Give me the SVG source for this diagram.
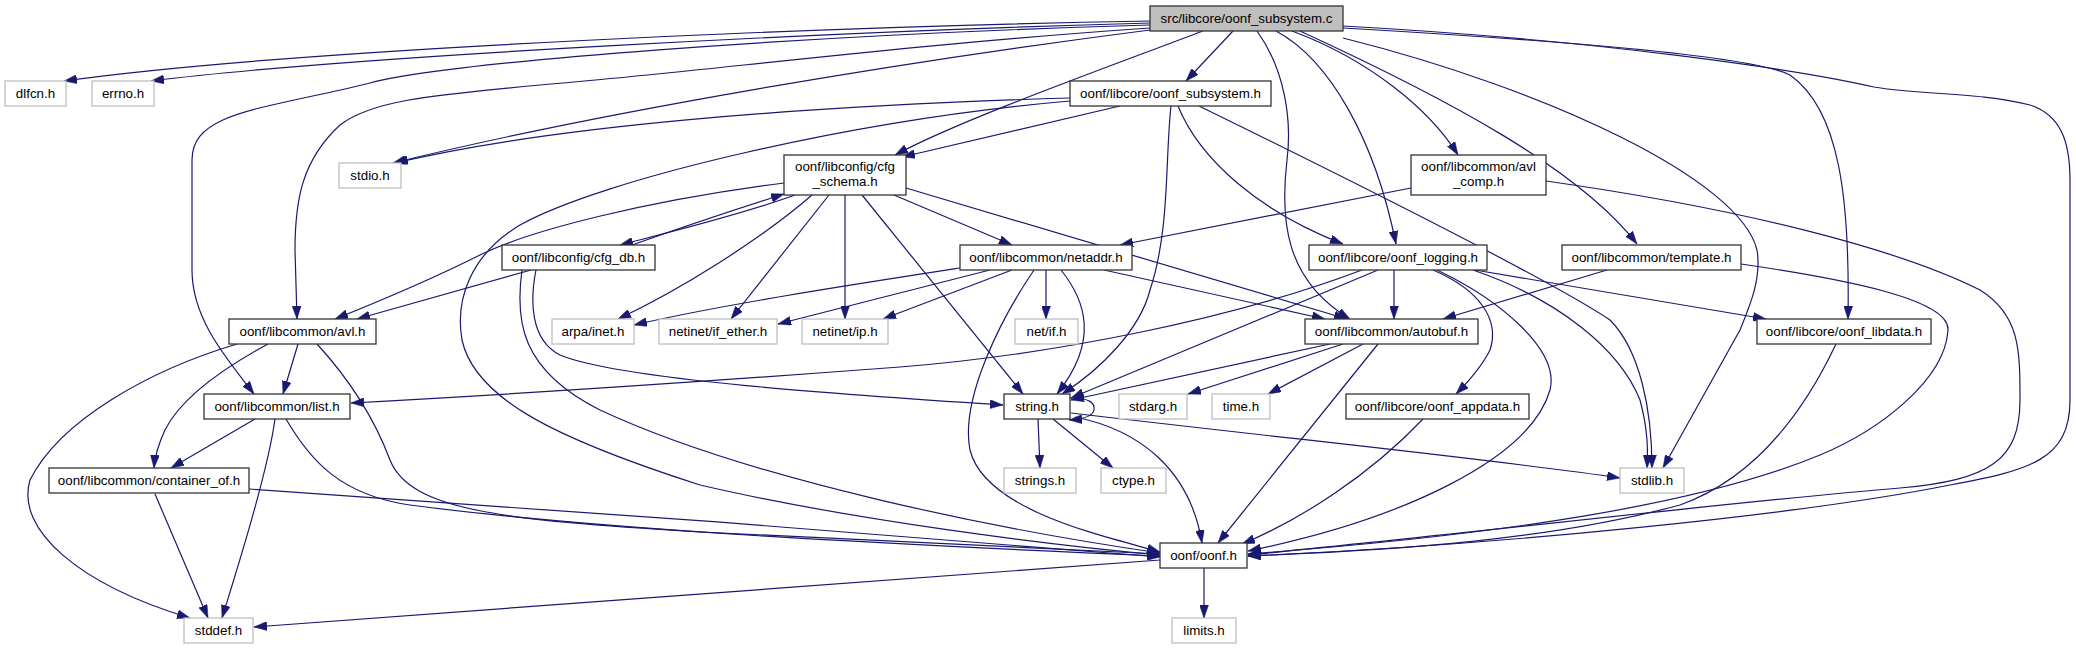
<svg xmlns="http://www.w3.org/2000/svg" width="2076" height="649" viewBox="0 0 2076 649">
<style>
.n rect{fill:#fff;stroke:#333;stroke-width:1.3}
.g rect{fill:#fff;stroke:#bfbfbf;stroke-width:1.3}
#n_src rect{fill:#bfbfbf}
text{font-family:"Liberation Sans",Arial,sans-serif;font-size:13.33px;fill:#000;text-anchor:middle}
#edges path{fill:none;stroke:#191970;stroke-width:1.2;marker-end:url(#a)}
</style>
<defs>
<marker id="a" viewBox="0 0 13 9" refX="13" refY="4.5" markerWidth="13" markerHeight="9" markerUnits="userSpaceOnUse" orient="auto">
<path d="M0,0L13,4.5L0,9z" fill="#191970" stroke="#191970" stroke-width="0.5"/>
</marker>
</defs>
<rect width="2076" height="649" fill="#fff"/>
<g id="edges">
<path d="M1150,21 C850,26 300,48 64,81"/>
<path d="M1150,23 C850,31 350,56 151,81"/>
<path d="M1150,25 C800,35 450,62 370,83 C260,110 192,112 192,160 L192,270 C192,320 228,360 254,394"/>
<path d="M1150,28 C900,45 700,72 540,85 C420,96 370,102 340,125 C302,160 295,200 295,250 L297,319"/>
<path d="M1150,30 C900,62 600,112 393,163"/>
<path d="M1070,98 C800,106 550,126 395,163"/>
<path d="M1070,101 C850,120 600,180 520,225 C470,255 455,300 462,340 C475,400 560,440 700,485 C850,520 1050,545 1160,555"/>
<path d="M1203,31 C1100,70 960,120 895,155"/>
<path d="M1233,31 L1186,81"/>
<path d="M1120,106 L902,157"/>
<path d="M1171,106 C1165,160 1170,230 1150,290 C1140,330 1100,370 1062,394"/>
<path d="M1178,106 C1200,160 1260,212 1343,244"/>
<path d="M1199,106 C1350,180 1550,280 1610,320 C1640,350 1652,410 1652,468"/>
<path d="M1257,31 C1285,70 1292,120 1287,160 C1280,220 1285,280 1350,319"/>
<path d="M1276,31 C1330,60 1375,140 1396,244"/>
<path d="M1292,31 C1370,60 1430,110 1458,155"/>
<path d="M1300,31 C1450,100 1580,170 1637,244"/>
<path d="M1343,38 C1550,90 1740,180 1757,250 C1762,280 1748,310 1740,330 L1663,468"/>
<path d="M1343,28 C1550,40 1750,55 1790,75 C1840,110 1850,200 1848,319"/>
<path d="M1343,26 C1600,40 1800,70 1874,87 C1920,95 1980,92 2030,105 C2060,115 2070,140 2070,180 L2070,400 C2070,460 2030,470 1950,485 C1800,515 1500,545 1248,556"/>
<path d="M795,195 C740,215 670,232 620,245"/>
<path d="M632,245 C680,228 740,208 784,194"/>
<path d="M784,183 C650,200 530,230 480,255 C420,285 370,305 335,319"/>
<path d="M812,195 C760,240 680,290 618,319"/>
<path d="M829,195 L731,319"/>
<path d="M845,195 L845,319"/>
<path d="M862,195 L1023,394"/>
<path d="M894,195 L1012,245"/>
<path d="M906,188 L1347,319"/>
<path d="M531,270 L357,319"/>
<path d="M536,270 C530,300 530,340 560,355 C620,380 850,395 1003,405"/>
<path d="M522,270 C515,320 520,370 600,410 C750,480 1000,530 1160,553"/>
<path d="M960,268 C850,285 720,305 634,325"/>
<path d="M990,270 L778,324"/>
<path d="M1012,270 L883,319"/>
<path d="M1046,270 L1046,319"/>
<path d="M1061,270 C1085,300 1100,340 1057,394"/>
<path d="M1034,270 C1000,320 960,400 970,450 C985,510 1100,535 1160,552"/>
<path d="M1104,270 L1325,319"/>
<path d="M1411,188 L1120,245"/>
<path d="M1546,181 C1750,210 1900,250 1980,290 C2020,315 2020,350 2020,400 C2020,460 1990,480 1900,488 C1750,500 1500,530 1248,555"/>
<path d="M1607,270 L1443,319"/>
<path d="M1741,264 C1850,280 1950,300 1948,330 C1945,380 1880,430 1820,455 C1700,505 1500,535 1248,554"/>
<path d="M1394,270 L1394,319"/>
<path d="M1378,270 L1071,398"/>
<path d="M1362,270 C1230,320 1050,355 900,367 C700,382 500,395 351,403"/>
<path d="M1433,270 C1480,290 1500,320 1490,350 C1480,370 1465,385 1456,394"/>
<path d="M1437,270 C1500,300 1560,350 1550,390 C1530,460 1400,520 1248,551"/>
<path d="M1473,270 C1560,300 1620,350 1640,400 C1648,430 1648,450 1647,468"/>
<path d="M1475,270 L1766,319"/>
<path d="M1836,344 C1800,420 1750,480 1680,505 C1550,540 1400,550 1248,556"/>
<path d="M298,344 L283,394"/>
<path d="M268,344 C220,370 180,400 165,430 C158,445 155,455 154,468"/>
<path d="M237,344 C150,370 60,420 30,480 C15,530 80,585 190,618"/>
<path d="M317,344 C350,380 375,420 390,460 C410,510 500,520 700,532 C900,543 1050,550 1160,554"/>
<path d="M1330,344 L1071,400"/>
<path d="M1343,344 L1188,394"/>
<path d="M1363,344 L1268,394"/>
<path d="M1378,344 L1218,543"/>
<path d="M255,419 L171,468"/>
<path d="M275,419 C268,470 240,560 222,618"/>
<path d="M286,419 C310,460 340,495 410,505 C600,530 900,545 1160,556"/>
<path d="M1038,419 L1040,468"/>
<path d="M1053,419 L1113,468"/>
<path d="M1071,413 C1300,440 1500,460 1620,478"/>
<path d="M1075,417 C1140,430 1190,470 1202,543"/>
<path d="M1070,398 C1090,398 1095,403 1094,410 C1093,416 1085,419 1069,420"/>
<path d="M1423,419 C1370,475 1300,520 1242,544"/>
<path d="M155,494 L208,618"/>
<path d="M249,489 C500,505 900,535 1160,557"/>
<path d="M1160,560 L254,627"/>
<path d="M1204,568 L1204,618"/>
</g>
<g id="n_src" class="n"><rect x="1150" y="6" width="193" height="25"/><text x="1246.5" y="23">src/libcore/oonf_subsystem.c</text></g>
<g id="n_dlfcn" class="g"><rect x="5" y="81" width="61" height="25"/><text x="35.5" y="98">dlfcn.h</text></g>
<g id="n_errno" class="g"><rect x="92" y="81" width="62" height="25"/><text x="123" y="98">errno.h</text></g>
<g id="n_subsystem" class="n"><rect x="1070" y="81" width="201" height="25"/><text x="1170.5" y="98">oonf/libcore/oonf_subsystem.h</text></g>
<g id="n_stdio" class="g"><rect x="339" y="163" width="62" height="25"/><text x="370" y="180">stdio.h</text></g>
<g id="n_cfg_schema" class="n"><rect x="784" y="155" width="122" height="40"/><text x="845" y="171">oonf/libconfig/cfg</text><text x="845" y="186">_schema.h</text></g>
<g id="n_avl_comp" class="n"><rect x="1411" y="155" width="135" height="40"/><text x="1478.5" y="171">oonf/libcommon/avl</text><text x="1478.5" y="186">_comp.h</text></g>
<g id="n_cfg_db" class="n"><rect x="502" y="245" width="153" height="25"/><text x="578.5" y="262">oonf/libconfig/cfg_db.h</text></g>
<g id="n_netaddr" class="n"><rect x="960" y="245" width="172" height="25"/><text x="1046" y="262">oonf/libcommon/netaddr.h</text></g>
<g id="n_logging" class="n"><rect x="1309" y="245" width="178" height="25"/><text x="1398" y="262">oonf/libcore/oonf_logging.h</text></g>
<g id="n_template" class="n"><rect x="1562" y="245" width="179" height="25"/><text x="1651.5" y="262">oonf/libcommon/template.h</text></g>
<g id="n_avl" class="n"><rect x="229" y="319" width="147" height="25"/><text x="302.5" y="336">oonf/libcommon/avl.h</text></g>
<g id="n_arpa" class="g"><rect x="552" y="319" width="82" height="25"/><text x="593" y="336">arpa/inet.h</text></g>
<g id="n_if_ether" class="g"><rect x="659" y="319" width="118" height="25"/><text x="718" y="336">netinet/if_ether.h</text></g>
<g id="n_ip" class="g"><rect x="802" y="319" width="86" height="25"/><text x="845" y="336">netinet/ip.h</text></g>
<g id="n_netif" class="g"><rect x="1015" y="319" width="63" height="25"/><text x="1046.5" y="336">net/if.h</text></g>
<g id="n_autobuf" class="n"><rect x="1305" y="319" width="173" height="25"/><text x="1391.5" y="336">oonf/libcommon/autobuf.h</text></g>
<g id="n_libdata" class="n"><rect x="1757" y="319" width="174" height="25"/><text x="1844" y="336">oonf/libcore/oonf_libdata.h</text></g>
<g id="n_list" class="n"><rect x="204" y="394" width="146" height="25"/><text x="277" y="411">oonf/libcommon/list.h</text></g>
<g id="n_string" class="n"><rect x="1004" y="394" width="66" height="25"/><text x="1037" y="411">string.h</text></g>
<g id="n_stdarg" class="g"><rect x="1119" y="394" width="68" height="25"/><text x="1153" y="411">stdarg.h</text></g>
<g id="n_time" class="g"><rect x="1212" y="394" width="58" height="25"/><text x="1241" y="411">time.h</text></g>
<g id="n_appdata" class="n"><rect x="1346" y="394" width="183" height="25"/><text x="1437.5" y="411">oonf/libcore/oonf_appdata.h</text></g>
<g id="n_container_of" class="n"><rect x="49" y="468" width="200" height="25"/><text x="149" y="485">oonf/libcommon/container_of.h</text></g>
<g id="n_strings" class="g"><rect x="1004" y="468" width="72" height="25"/><text x="1040" y="485">strings.h</text></g>
<g id="n_ctype" class="g"><rect x="1101" y="468" width="65" height="25"/><text x="1133.5" y="485">ctype.h</text></g>
<g id="n_stdlib" class="g"><rect x="1620" y="468" width="64" height="25"/><text x="1652" y="485">stdlib.h</text></g>
<g id="n_oonf" class="n"><rect x="1160" y="543" width="87" height="25"/><text x="1203.5" y="560">oonf/oonf.h</text></g>
<g id="n_stddef" class="g"><rect x="184" y="618" width="69" height="25"/><text x="218.5" y="635">stddef.h</text></g>
<g id="n_limits" class="g"><rect x="1172" y="618" width="64" height="25"/><text x="1204" y="635">limits.h</text></g>
</svg>
